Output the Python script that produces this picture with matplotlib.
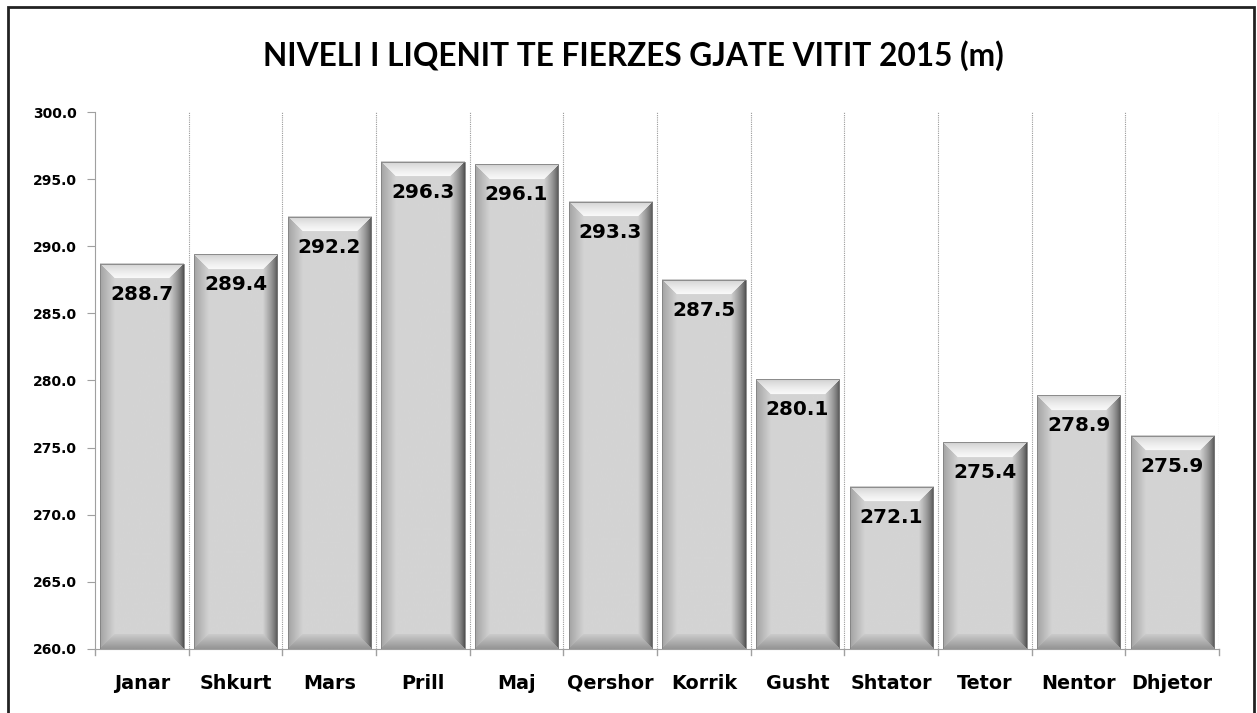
import numpy as np
import matplotlib.pyplot as plt
from matplotlib.patches import Rectangle

months = ['Janar', 'Shkurt', 'Mars', 'Prill', 'Maj', 'Qershor', 'Korrik',
          'Gusht', 'Shtator', 'Tetor', 'Nentor', 'Dhjetor']
levels = [288.7, 289.4, 292.2, 296.3, 296.1, 293.3, 287.5, 280.1, 272.1,
          275.4, 278.9, 275.9]
y_ticks = [260.0, 265.0, 270.0, 275.0, 280.0, 285.0, 290.0, 295.0, 300.0]

plt.rcParams['font.family'] = ['DejaVu Sans']
plt.rcParams['font.weight'] = 'bold'


def bevel_image(w_px, h_px, b=15):
    # grey levels for a bar with bevelled edges
    w_px = max(int(w_px), 2)
    h_px = max(int(h_px), 2)
    xx, yy = np.meshgrid(np.arange(w_px) + 0.5, np.arange(h_px) + 0.5)
    d_left = xx
    d_right = w_px - xx
    d_top = yy
    d_bot = h_px - yy
    img = np.full((h_px, w_px), 0.83)
    dmin = np.minimum.reduce([d_left, d_right, d_top, d_bot])
    edge = dmin < b
    t = np.clip(dmin / b, 0, 1)
    top = edge & (d_top == dmin)
    bot = edge & (d_bot == dmin) & ~top
    left = edge & (d_left == dmin) & ~top & ~bot
    right = edge & (d_right == dmin) & ~top & ~bot & ~left
    img[top] = 0.78 + 0.2 * t[top] ** 0.6
    img[bot] = 0.58 + 0.22 * t[bot]
    img[left] = 0.64 + 0.19 * t[left]
    img[right] = 0.28 + 0.55 * t[right] ** 0.7
    return img


fig = plt.figure(figsize=(12.57, 7.13), dpi=100)
ax = fig.add_axes([0.0756, 0.0898, 0.8942, 0.7531])

x = np.arange(len(months))
bars = ax.bar(x, [v - 260 for v in levels], bottom=260, width=0.89,
              color='#d4d4d4', zorder=2)

ax.set_xlim(-0.5, len(months) - 0.5)
ax.set_ylim(260, 300)
fig.canvas.draw()

px_per_x = ax.bbox.width / len(months)
px_per_y = ax.bbox.height / 40.0
for bar in bars:
    bx, by = bar.get_x(), bar.get_y()
    bw, bh = bar.get_width(), bar.get_height()
    img = bevel_image(bw * px_per_x, bh * px_per_y)
    ax.imshow(img, cmap='gray', vmin=0, vmax=1, aspect='auto',
              extent=(bx, bx + bw, by, by + bh), origin='upper',
              interpolation='bilinear', zorder=3)
    ax.add_patch(Rectangle((bx, by), bw, bh, fill=False, edgecolor='#808080',
                           linewidth=0.6, zorder=4))

for xi, v in zip(x, levels):
    ax.annotate(f'{v:.1f}', (xi, v), xytext=(0, -22), textcoords='offset points',
                ha='center', va='center', fontsize=14.4, fontweight='bold',
                color='black', zorder=5)

ax.set_xlim(-0.5, len(months) - 0.5)
ax.set_ylim(260, 300)
ax.set_yticks(y_ticks)
ax.set_yticklabels([f'{t:.1f}' for t in y_ticks], fontsize=10, fontweight='bold')
ax.set_xticks(x)
ax.set_xticklabels(months, fontsize=13.8, fontweight='bold')
ax.tick_params(axis='x', length=0, pad=18)
ax.tick_params(axis='y', length=6, color='#a0a0a0', pad=7)

for b in np.arange(0.5, len(months), 1.0):
    ax.axvline(b, color='#9a9a9a', linestyle=(0, (1, 1)), linewidth=0.8, zorder=1)
for b in np.arange(-0.5, len(months) + 0.5, 1.0):
    ax.plot([b, b], [0, -0.012], transform=ax.get_xaxis_transform(),
            color='#a0a0a0', linewidth=1, clip_on=False)

for s in ['top', 'right']:
    ax.spines[s].set_visible(False)
ax.spines['left'].set_color('#a0a0a0')
ax.spines['bottom'].set_color('#a0a0a0')

fig.text(0.504, 0.922, 'NIVELI I LIQENIT TE FIERZES GJATE VITIT 2015 (m)',
         ha='center', va='center', fontsize=22.8, fontweight='bold',
         family=['Lato', 'DejaVu Sans'])

fig.add_artist(Rectangle((8 / 1257, -0.05), 1 - 11 / 1257, 1.05 - 7 / 713,
                         transform=fig.transFigure, fill=False,
                         edgecolor='#222222', linewidth=2))

fig.savefig('out.png', dpi=100)
